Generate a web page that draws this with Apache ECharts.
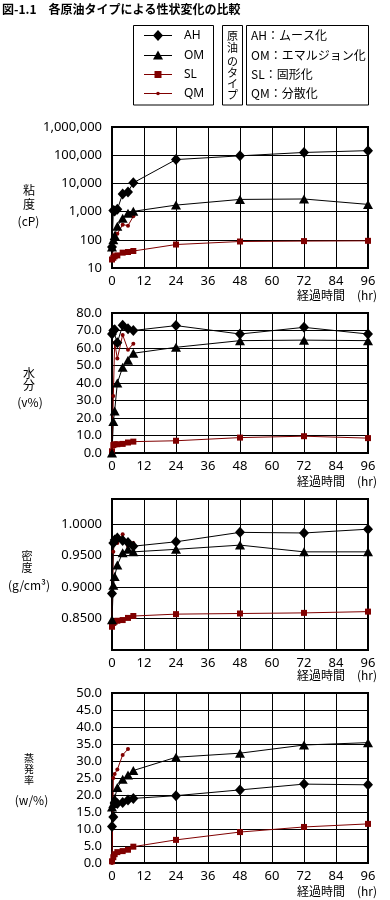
<!DOCTYPE html>
<html><head><meta charset="utf-8">
<script src="https://cdn.jsdelivr.net/npm/echarts@6/dist/echarts.min.js"></script>
<style>html,body{margin:0;padding:0;background:#fff}#c{width:390px;height:900px}</style>
</head><body><div id="c"></div>
<script>
// ---- data ----
const hours = [0, 0.5, 1, 2, 4, 6, 8, 24, 48, 72, 96];
const hoursQM = [0, 0.5, 1, 2, 4, 6, 8];
const hoursQMEvap = [0, 0.5, 1, 2, 4, 6];
const xTicks = [0, 12, 24, 36, 48, 60, 72, 84, 96];
const seriesNames = ['AH', 'OM', 'SL', 'QM'];
const typeNotes = ['AH：ムース化', 'OM：エマルジョン化', 'SL：固形化', 'QM：分散化'];

// viscosity (cP)
const viscAH = [55, 1100, 1050, 1200, 4200, 5000, 10500, 70000, 95000, 125000, 145000];
const viscOM = [55, 100, 142, 304, 580, 870, 1020, 1700, 2700, 2800, 1800];
const viscSL = [20, 23, 26, 28, 35, 37, 40, 68, 87, 90, 92];
const viscQM = [20, 48, 115, 163, 345, 318, 680];
const viscTicks = [10, 100, 1000, 10000, 100000, 1000000];

// water content (v%)
const waterAH = [68, 70, 70.5, 63, 73, 71, 70, 72.8, 68, 71.8, 68];
const waterOM = [0, 18, 24, 40, 49, 53, 57, 60.4, 64.2, 64.5, 64.2];
const waterSL = [1, 4.5, 5, 5, 5.2, 6, 6.5, 7, 8.8, 9.6, 8.5];
const waterQM = [0, 32.6, 63, 54, 67.5, 59, 62.5];
const waterTicks = [0, 10, 20, 30, 40, 50, 60, 70, 80];

// density (g/cm3)
const densAH = [0.890, 0.970, 0.975, 0.978, 0.974, 0.971, 0.965, 0.972, 0.987, 0.986, 0.992];
const densOM = [0.848, 0.903, 0.917, 0.935, 0.9545, 0.960, 0.956, 0.960, 0.9667, 0.956, 0.956];
const densSL = [0.837, 0.843, 0.845, 0.8465, 0.8476, 0.851, 0.854, 0.857, 0.858, 0.859, 0.861];
const densQM = [0.840, 0.956, 0.973, 0.970, 0.984, 0.958, 0.970];
const densTicks = [0.85, 0.90, 0.95, 1.00];

// evaporation (w/%)
const evapAH = [10.7, 13.5, 17.5, 17.5, 17.8, 18.5, 19, 19.8, 21.5, 23.2, 23];
const evapOM = [16.5, 17.5, 19, 22.2, 24.6, 25.9, 27.2, 31.1, 32.3, 34.7, 35.4];
const evapSL = [0.5, 1.7, 2.6, 3.2, 3.5, 3.9, 4.8, 6.8, 9.1, 10.6, 11.5];
const evapQM = [0, 25, 26.2, 27.5, 31.8, 33.5];
const evapTicks = [0, 5, 10, 15, 20, 25, 30, 35, 40, 45, 50];

// ---- chart ----
const RED = '#800000';
const NUM_FONT = 'Noto Sans';
const JP_FONT = 'Noto Sans CJK JP';
const pair = (t, v) => t.map((x, i) => [x, v[i]]);

const grids = [
  {left: 112, top: 127, width: 256, height: 141},
  {left: 112, top: 313, width: 256, height: 140},
  {left: 112, top: 499, width: 256, height: 151},
  {left: 112, top: 693, width: 256, height: 170}
].map(g => Object.assign(g, {show: true, borderColor: '#000', borderWidth: 2, backgroundColor: 'transparent'}));

const xAxes = grids.map((g, i) => ({
  type: 'value', gridIndex: i, min: xTicks[0], max: xTicks[xTicks.length - 1], interval: 12,
  axisLine: {show: false}, axisTick: {show: false},
  splitLine: {show: true, lineStyle: {color: '#000', width: 1}},
  axisLabel: {color: '#000', fontSize: 13, fontFamily: NUM_FONT, margin: 7}
}));

const yCommon = {
  axisLine: {show: false}, axisTick: {show: false},
  splitLine: {show: true, lineStyle: {color: '#000', width: 1}}
};
const lbl = (fmt) => ({color: '#000', fontSize: 13, fontFamily: NUM_FONT, margin: 10, formatter: fmt});
const yAxes = [
  Object.assign({type: 'log', logBase: 10, gridIndex: 0, min: viscTicks[0], max: viscTicks[viscTicks.length - 1],
    axisLabel: lbl(v => Math.round(v).toLocaleString('en-US'))}, yCommon),
  Object.assign({type: 'value', gridIndex: 1, min: waterTicks[0], max: waterTicks[waterTicks.length - 1], interval: 10,
    axisLabel: lbl(v => v.toFixed(1))}, yCommon),
  Object.assign({type: 'value', gridIndex: 2, min: 0.80, max: 1.04, interval: 0.05,
    axisLabel: lbl(v => densTicks.some(t => Math.abs(t - v) < 1e-6) ? v.toFixed(4) : '')}, yCommon),
  Object.assign({type: 'value', gridIndex: 3, min: evapTicks[0], max: evapTicks[evapTicks.length - 1], interval: 5,
    axisLabel: lbl(v => v.toFixed(1))}, yCommon)
];

const styleOf = {
  AH: {symbol: 'diamond', symbolSize: [10, 11], color: '#000'},
  OM: {symbol: 'triangle', symbolSize: [10, 9], color: '#000'},
  SL: {symbol: 'rect', symbolSize: 6, color: RED},
  QM: {symbol: 'circle', symbolSize: 4, color: RED}
};
function mk(name, idx, data) {
  const s = styleOf[name];
  return {
    type: 'line', name, xAxisIndex: idx, yAxisIndex: idx, data,
    symbol: s.symbol, symbolSize: s.symbolSize, showAllSymbol: true,
    itemStyle: {color: s.color}, lineStyle: {color: s.color, width: 1},
    emphasis: {disabled: true}, silent: true, animation: false
  };
}
const panels = [
  {AH: viscAH, OM: viscOM, SL: viscSL, QM: viscQM, qmT: hoursQM},
  {AH: waterAH, OM: waterOM, SL: waterSL, QM: waterQM, qmT: hoursQM},
  {AH: densAH, OM: densOM, SL: densSL, QM: densQM, qmT: hoursQM},
  {AH: evapAH, OM: evapOM, SL: evapSL, QM: evapQM, qmT: hoursQMEvap}
];
const series = [];
panels.forEach((p, i) => {
  series.push(mk('QM', i, pair(p.qmT, p.QM)));
  series.push(mk('SL', i, pair(hours, p.SL)));
  series.push(mk('OM', i, pair(hours, p.OM)));
  series.push(mk('AH', i, pair(hours, p.AH)));
});

// ---- decorations (title, legend boxes, axis names) ----
const T = (text, x, y, opts = {}) => ({
  type: 'text', x, y, silent: true,
  style: Object.assign({text, fill: '#000', font: '12px "' + JP_FONT + '"', align: 'center', verticalAlign: 'middle'}, opts)
});
const graphic = [];
graphic.push(T('図-1.1　各原油タイプによる性状変化の比較', 2, 9, {font: 'bold 12px "' + JP_FONT + '"', align: 'left'}));
// boxes
[[133.5, 80], [222.5, 20], [246.5, 122]].forEach(([x, w]) =>
  graphic.push({type: 'rect', silent: true, shape: {x, y: 25.5, width: w, height: 79.5}, style: {fill: 'none', stroke: '#000', lineWidth: 1}}));
// legend rows
const rowY = [35, 55, 74, 93];
seriesNames.forEach((n, i) => {
  const y = rowY[i], c = styleOf[n].color;
  graphic.push({type: 'line', silent: true, shape: {x1: 144, y1: y + 0.5, x2: 172, y2: y + 0.5}, style: {stroke: c, lineWidth: 1}});
  if (n === 'AH') graphic.push({type: 'polygon', silent: true, shape: {points: [[158, y - 5], [163, y + 0.5], [158, y + 6], [153, y + 0.5]]}, style: {fill: c}});
  if (n === 'OM') graphic.push({type: 'polygon', silent: true, shape: {points: [[158, y - 4.5], [163, y + 4.5], [153, y + 4.5]]}, style: {fill: c}});
  if (n === 'SL') graphic.push({type: 'rect', silent: true, shape: {x: 154.5, y: y - 3, width: 7, height: 7}, style: {fill: c}});
  if (n === 'QM') graphic.push({type: 'circle', silent: true, shape: {cx: 158, cy: y + 0.5, r: 1.8}, style: {fill: c}});
  graphic.push(T(n, 184, y + 0.5, {align: 'left', font: '12px "' + NUM_FONT + '"'}));
  graphic.push(T(typeNotes[i], 251, y + 0.5, {align: 'left'}));
});
// vertical label 原油のタイプ
const vChars = ['原', '油', 'の', 'タ', 'イ', 'プ'];
const vY = [35.5, 47.5, 61.5, 73, 84, 94.5];
vChars.forEach((ch, i) => graphic.push(T(ch, 232.5, vY[i], {font: '11px "' + JP_FONT + '"'})));
// y axis names
[
  ['粘', 29, 190.5], ['度', 29, 204], ['(cP)', 28.5, 221.5],
  ['水', 29, 373.5], ['分', 29, 385.5], ['(v%)', 30, 402.5],
  ['(g/cm³)', 29, 585.5],
  ['(w/%)', 31.5, 800]
].forEach(([t, x, y]) => graphic.push(T(t, x, y)));
[['密', 27, 555.5], ['度', 27, 567.5]].forEach(([t, x, y]) => graphic.push(T(t, x, y, {font: '11px "' + JP_FONT + '"'})));
[['蒸', 29, 758], ['発', 29, 769], ['率', 29, 780]].forEach(([t, x, y]) => graphic.push(T(t, x, y, {font: '10px "' + JP_FONT + '"'})));
// x axis names
[295.5, 481, 675, 891].forEach(y => graphic.push(T('経過時間　(hr)', 377, y, {align: 'right'})));

const chart = echarts.init(document.getElementById('c'), null, {renderer: 'canvas'});
chart.setOption({
  animation: false,
  backgroundColor: '#fff',
  grid: grids, xAxis: xAxes, yAxis: yAxes, series, graphic
});
</script>
</body></html>
